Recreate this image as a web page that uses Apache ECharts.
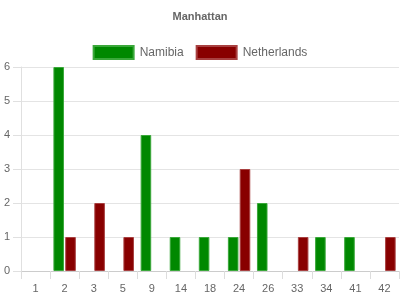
<!DOCTYPE html>
<html><head><meta charset="utf-8">
<script src="https://cdn.jsdelivr.net/npm/echarts@6/dist/echarts.min.js"></script>
<style>html,body{margin:0;padding:0;background:#fff}#c{width:400px;height:300px}</style>
</head><body><div id="c"></div>
<script>
var categories = ['1','2','3','5','9','14','18','24','26','33','34','41','42'];
var namibia = [0,6,0,0,4,1,1,1,2,0,1,1,0];
var netherlands = [0,1,2,1,0,0,0,3,0,1,0,0,1];
var yTicks = [0,1,2,3,4,5,6];

function hideZero(arr){ return arr.map(function(v){ return v === 0 ? '-' : v; }); }

var chart = echarts.init(document.getElementById('c'), null, {renderer:'canvas'});
var font = '"Liberation Sans", Arial, sans-serif';
chart.setOption({
  animation: false,
  textStyle: {fontFamily: font},
  title: {text: 'Manhattan', left: 'center', top: 6,
    textStyle: {fontSize: 11, fontWeight: 'bold', color: '#666', fontFamily: font}},
  legend: {top: 40, left: 'center', itemWidth: 40, itemHeight: 13, itemGap: 12,
    icon: 'rect',
    textStyle: {fontSize: 12, color: '#666', fontFamily: font, padding: [0,0,0,1]},
    data: ['Namibia','Netherlands']},
  grid: {left: 21, right: 1, top: 67, bottom: 29, containLabel: false},
  xAxis: {type: 'category', data: categories,
    axisLine: {show: true, lineStyle: {color: '#ccc'}},
    axisTick: {show: true, length: 8, lineStyle: {color: '#ddd'}},
    axisLabel: {fontSize: 11, color: '#666', margin: 12, fontFamily: font},
    splitLine: {show: false}},
  yAxis: {type: 'value', min: yTicks[0], max: yTicks[yTicks.length-1], interval: 1,
    axisLine: {show: true, lineStyle: {color: '#e0e0e0'}},
    axisTick: {show: true, length: 8, lineStyle: {color: '#e0e0e0'}},
    axisLabel: {fontSize: 11, color: '#666', margin: 11, fontFamily: font},
    splitLine: {show: true, lineStyle: {color: '#e4e4e4'}}},
  series: [
    {name: 'Namibia', type: 'bar', data: hideZero(namibia), barGap: '12%', barCategoryGap: '23%',
      itemStyle: {color: '#008800', borderColor: '#3aa83a', borderWidth: 1}},
    {name: 'Netherlands', type: 'bar', data: hideZero(netherlands),
      itemStyle: {color: '#880000', borderColor: '#a84040', borderWidth: 1}}
  ]
});
</script></body></html>
